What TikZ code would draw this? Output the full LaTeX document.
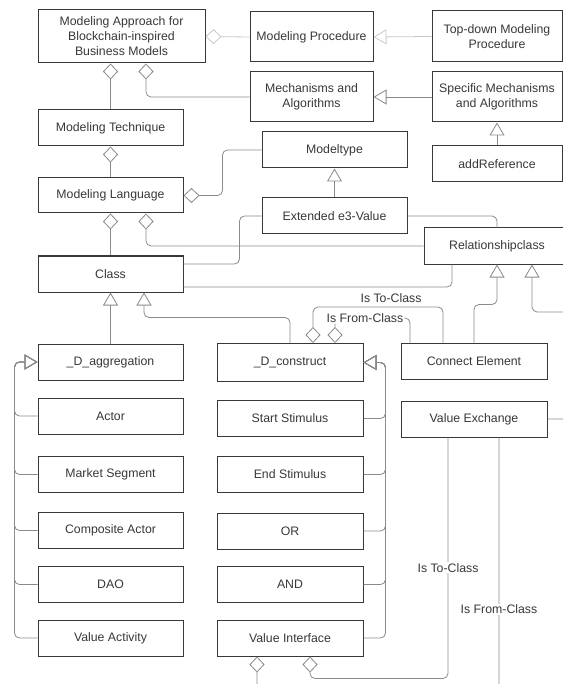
\documentclass[tikz,border=0pt]{standalone}
\usepackage{fontspec}
\setmainfont{Liberation Sans}
\usetikzlibrary{arrows.meta}
\definecolor{boxline}{HTML}{383838}
\definecolor{conline}{HTML}{8A8A8A}
\definecolor{faintline}{HTML}{C8C8C8}

\begin{document}
\begin{tikzpicture}[x=1pt, y=-1pt,
    every node/.style={font=\fontsize{12.3}{15}\selectfont, text=boxline},
    cls/.style={draw=boxline, line width=1pt, fill=white, minimum width=145pt,
        minimum height=36pt, inner sep=2pt, align=center},
    link/.style={draw=conline, line width=0.8pt, rounded corners=5pt},
    hasa/.style={link, {Diamond[open,length=16pt,width=15pt]}-},
    isa/.style={link, -{Triangle[open,length=13pt,width=15pt]}},
    lbl/.style={fill=white, inner sep=1pt}]
    \useasboundingbox (0,0) rectangle (563,684);
    \clip (0,0) rectangle (563,684);

    \node[cls, minimum width=167pt, minimum height=53pt] (appr) at (121.5,36.5)
        {Modeling Approach for\\Blockchain-inspired\\Business Models};
    \node[cls, minimum width=123pt, minimum height=50pt] (proc) at (311.5,37) {Modeling Procedure};
    \node[cls, minimum width=130pt, minimum height=51pt] (topdown) at (497,36.5) {Top-down Modeling\\Procedure};
    \node[cls, minimum width=123pt, minimum height=50pt] (mech) at (311.5,97) {Mechanisms and\\Algorithms};
    \node[cls, minimum width=130pt, minimum height=50pt] (specmech) at (497,97) {Specific Mechanisms\\and Algorithms};
    \node[cls, minimum width=130pt] (addref) at (497,164) {addReference};
    \node[cls] (tech) at (110.5,128) {Modeling Technique};
    \node[cls] (mtype) at (334.5,150) {Modeltype};
    \node[cls, minimum height=35pt] (lang) at (110.5,195.5) {Modeling Language};
    \node[cls] (ext) at (334.5,216) {Extended e3-Value};
    \node[cls, minimum width=146pt] (rel) at (497,246) {Relationshipclass};
    \node[cls] (class) at (110.5,274) {Class};
    \node[cls] (agg) at (110.5,362) {\_D\_aggregation};
    \node[cls, minimum width=146pt, minimum height=38pt] (cons) at (290,362.5) {\_D\_construct};
    \node[cls, minimum width=146pt] (conn) at (474,361) {Connect Element};
    \node[cls, minimum width=146pt] (vex) at (474,419) {Value Exchange};

    \foreach \n/\t/\y in {actor/Actor/416, market/Market Segment/474.5,
        comp/Composite Actor/530.5, dao/DAO/584.5, vact/Value Activity/638} {
        \node[cls] (\n) at (110.5,\y) {\t};
        \draw[isa] (\n.west) -- ++(-23,0) |- (agg.west);
    }
    \foreach \n/\t/\y in {start/Start Stimulus/418.5, stop/End Stimulus/474.5,
        gor/OR/531, gand/AND/584.5, vint/Value Interface/638} {
        \node[cls, minimum width=146pt] (\n) at (290,\y) {\t};
        \draw[isa] (\n.east) -- ++(22,0) |- (cons.east);
    }

    \draw[hasa, draw=faintline] (appr.east) -- (proc.west);
    \draw[isa, draw=faintline] (topdown.west) -- (proc.east);
    \draw[isa] (specmech.west) -- (mech.east);
    \draw[isa] (addref.north) -- (specmech.south);
    \draw[hasa] (tech.north |- appr.south) -- (tech.north);
    \draw[hasa] ([xshift=24.5pt]appr.south) |- (mech.west);
    \draw[hasa] (tech.south) -- (lang.north);
    \draw[hasa] (lang.east) -- ++(39,0) |- (mtype.west);
    \draw[isa] (ext.north) -- (mtype.south);
    \draw[hasa] (lang.south) -- (class.north);
    \draw[hasa] ([xshift=35.5pt]lang.south) |- (rel.west);
    \draw[link] ([yshift=10pt]class.east) -- ++(56,0) |- (ext.west);
    \draw[link] (ext.east) -| (rel.north);
    \draw[link] ([yshift=-13pt]class.east) -| ([xshift=-45pt]rel.south);
    \draw[isa] (agg.north) -- (class.south);
    \draw[isa] (cons.north) |- ([xshift=33.5pt,yshift=-25pt]class.south) -- ([xshift=33.5pt]class.south);
    \draw[hasa] ([xshift=23pt]cons.north) -- ++(0,-36)
        -| node[lbl, above=3pt, pos=0.3] {Is To-Class} ([xshift=-31pt]conn.north);
    \draw[hasa] ([xshift=45pt]cons.north) -- ++(0,-25)
        -| node[lbl, pos=0.2] {Is From-Class} ([xshift=-64pt]conn.north);
    \draw[isa] (conn.north) -- ++(0,-38) -| (rel.south);
    \coordinate (vexout) at (580,312);
    \draw[isa] (vex.east) -| (vexout) -| ([xshift=35pt]rel.south);
    \draw[hasa] ([xshift=20pt]vint.south) -- ++(0,22)
        -| node[lbl, pos=0.73] {Is To-Class} ([xshift=-26pt]vex.south);
    \draw[hasa] ([xshift=-33pt]vint.south) -- ++(0,40)
        -| node[lbl, pos=0.668] {Is From-Class} ([xshift=25pt]vex.south);
\end{tikzpicture}
\end{document}
